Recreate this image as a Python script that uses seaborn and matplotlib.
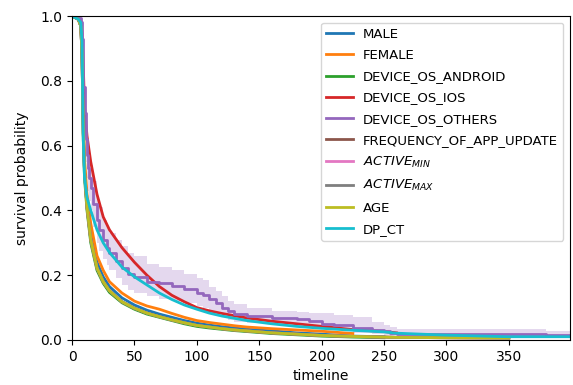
import matplotlib
matplotlib.use("Agg")
from matplotlib import pyplot as plt
import numpy as np
import pandas as pd
import seaborn as sns

# timeline grid shared by most groups
T = [0, 5, 7, 8, 9, 10, 12, 15, 20, 25, 30, 40, 50, 60, 70, 80, 90, 100, 110, 120,
     130, 140, 160, 180, 200, 225, 250, 260, 300, 350, 399]

MALE = [1, 0.99, 0.97, 0.9, 0.68, 0.53, 0.42, 0.33, 0.24, 0.195, 0.165, 0.13, 0.108, 0.092,
        0.08, 0.07, 0.06, 0.052, 0.046, 0.041, 0.037, 0.033, 0.028, 0.022, 0.018, 0.012, 0.01]
FEMALE = [1, 0.99, 0.97, 0.91, 0.72, 0.56, 0.45, 0.36, 0.26, 0.215, 0.18, 0.145, 0.12, 0.105,
          0.095, 0.082, 0.07, 0.06, 0.054, 0.049, 0.044, 0.04, 0.035, 0.031, 0.027, 0.02]
ANDROID = [1, 0.99, 0.97, 0.88, 0.62, 0.5, 0.4, 0.3, 0.215, 0.175, 0.147, 0.115, 0.095, 0.08,
           0.07, 0.06, 0.05, 0.042, 0.037, 0.033, 0.029, 0.026, 0.02, 0.016, 0.012, 0.009, 0.007]
IOS = [1, 0.995, 0.98, 0.95, 0.85, 0.72, 0.63, 0.55, 0.45, 0.38, 0.34, 0.285, 0.24, 0.2,
       0.165, 0.138, 0.118, 0.1, 0.09, 0.082, 0.075, 0.068, 0.058, 0.05, 0.042, 0.032, 0.026, 0.022]
AGE = [1, 0.99, 0.97, 0.88, 0.64, 0.52, 0.41, 0.31, 0.222, 0.18, 0.152, 0.118, 0.098, 0.083,
       0.072, 0.062, 0.053, 0.045, 0.04, 0.035, 0.031, 0.028, 0.022, 0.018, 0.014, 0.011,
       0.009, 0.008, 0.007, 0.006]
FREQ = AGE
ACTIVE_MIN = AGE
ACTIVE_MAX = AGE
DP_CT = [1, 0.99, 0.98, 0.92, 0.62, 0.5, 0.44, 0.4, 0.34, 0.3, 0.27, 0.225, 0.195, 0.17,
         0.145, 0.125, 0.108, 0.095, 0.083, 0.074, 0.067, 0.06, 0.05, 0.042, 0.036, 0.03,
         0.025, 0.021, 0.015, 0.01, 0.01]

# DEVICE_OS_OTHERS has its own timeline and a visible confidence band
T_OTH = [0, 5, 7, 8, 9, 10, 11, 12, 13, 14, 15, 17, 20, 22, 25, 28, 30, 35, 40, 45, 50,
         60, 70, 80, 90, 100, 105, 110, 115, 120, 125, 130, 140, 160, 180, 190, 200, 210,
         225, 240, 250, 255, 260, 300, 350, 380, 399]
OTHERS = [1, 0.995, 0.98, 0.93, 0.78, 0.7, 0.62, 0.57, 0.53, 0.5, 0.47, 0.42, 0.37, 0.34,
          0.31, 0.285, 0.27, 0.245, 0.222, 0.205, 0.195, 0.18, 0.175, 0.168, 0.158, 0.145,
          0.138, 0.128, 0.115, 0.1, 0.088, 0.08, 0.074, 0.069, 0.066, 0.058, 0.05, 0.045,
          0.036, 0.03, 0.028, 0.023, 0.018, 0.018, 0.02, 0.015, 0.015]
OTHERS_HI = [1, 1, 0.99, 0.96, 0.84, 0.77, 0.69, 0.64, 0.6, 0.57, 0.54, 0.49, 0.44, 0.41,
             0.37, 0.345, 0.33, 0.31, 0.29, 0.27, 0.26, 0.235, 0.225, 0.215, 0.205, 0.19,
             0.185, 0.165, 0.15, 0.135, 0.12, 0.11, 0.1, 0.09, 0.085, 0.083, 0.082, 0.078,
             0.072, 0.057, 0.045, 0.04, 0.033, 0.033, 0.033, 0.028, 0.028]
OTHERS_LO = [1, 0.99, 0.97, 0.9, 0.72, 0.63, 0.55, 0.5, 0.46, 0.43, 0.4, 0.35, 0.3, 0.275,
             0.25, 0.23, 0.215, 0.19, 0.17, 0.155, 0.145, 0.135, 0.128, 0.12, 0.113, 0.105,
             0.1, 0.09, 0.08, 0.07, 0.062, 0.057, 0.052, 0.05, 0.047, 0.04, 0.035, 0.03,
             0.022, 0.017, 0.015, 0.01, 0.006, 0.006, 0.006, 0.005, 0.005]

LABELS = ["MALE", "FEMALE", "DEVICE_OS_ANDROID", "DEVICE_OS_IOS", "DEVICE_OS_OTHERS",
          "FREQUENCY_OF_APP_UPDATE", r"$ACTIVE_{MIN}$", r"$ACTIVE_{MAX}$", "AGE", "DP_CT"]
SERIES = [MALE, FEMALE, ANDROID, IOS, OTHERS, FREQ, ACTIVE_MIN, ACTIVE_MAX, AGE, DP_CT]

colors = sns.color_palette("tab10", 10)

fig = plt.figure(figsize=(5.73, 3.85), dpi=100)
ax = fig.add_axes([0.1257, 0.1169, 0.8691, 0.8415])

for i, (label, vals) in enumerate(zip(LABELS, SERIES)):
    if label == "DEVICE_OS_OTHERS":
        ax.fill_between(T_OTH, OTHERS_LO, OTHERS_HI, step="post",
                        color=colors[i], alpha=0.25, linewidth=0)
        sns.lineplot(x=T_OTH, y=vals, ax=ax, color=colors[i], label=label,
                     linewidth=2, drawstyle="steps-post")
    else:
        sns.lineplot(x=T[:len(vals)], y=vals, ax=ax, color=colors[i], label=label,
                     linewidth=2)

ax.set_xlim(0, 399)
ax.set_ylim(0, 1)
ax.set_xticks([0, 50, 100, 150, 200, 250, 300, 350])
ax.set_xlabel("timeline")
ax.set_ylabel("survival probability", labelpad=8)
ax.legend(loc="upper right", fontsize=9.5, labelspacing=0.62)

fig.savefig("out.png", dpi=100)
